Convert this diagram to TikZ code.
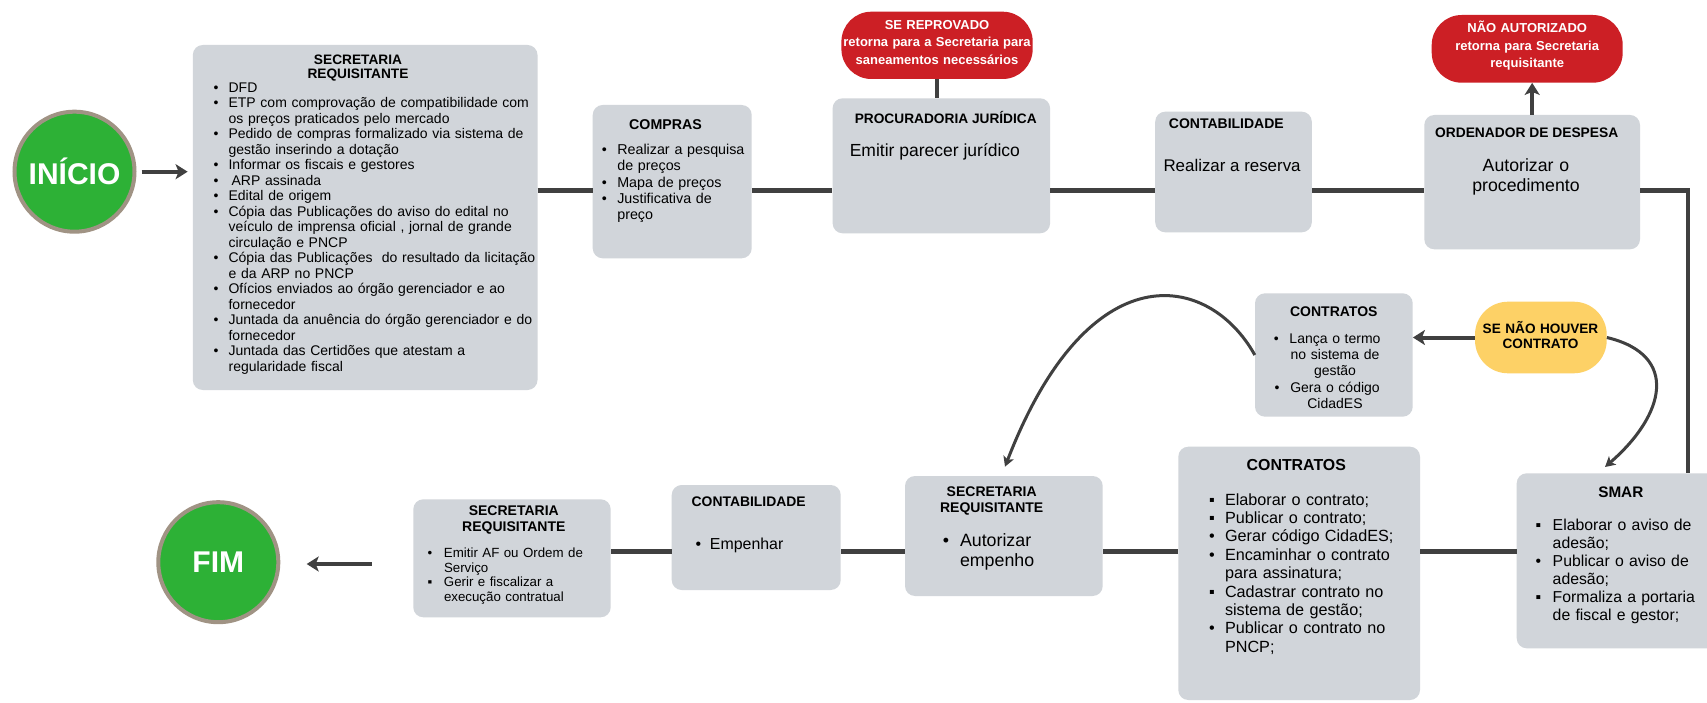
\documentclass[tikz,border=0pt]{standalone}
\usepackage{fontspec}
\setmainfont{Liberation Sans}
\usetikzlibrary{fit,arrows.meta}
\definecolor{boxgray}{RGB}{209,213,218}
\definecolor{redp}{RGB}{204,31,37}
\definecolor{greenc}{RGB}{45,177,54}
\definecolor{taupe}{RGB}{160,147,132}
\definecolor{yelp}{RGB}{253,209,102}
\definecolor{linec}{RGB}{64,64,64}
\newlength{\bi}
\newcommand{\itm}[2][\textbullet]{\hangindent=\bi\hangafter=1 \makebox[\bi][l]{\makebox[10pt][c]{#1}}#2\par}
\newcommand{\sqb}{▪}
\newcommand{\cbul}{\leavevmode\llap{\textbullet\hspace{10.8pt}}}
\begin{document}
\begin{tikzpicture}[x=1pt,y=-1pt,
  gbox/.style={fill=boxgray, rounded corners=10pt, inner sep=0pt, draw=none},
  pill/.style={fill=redp, rounded corners=30pt, inner sep=0pt},
  txt/.style={inner sep=0pt, outer sep=0pt, text=black},
  wtxt/.style={inner sep=0pt, outer sep=0pt, text=white, align=center, text width=220pt, anchor=base, font=\bfseries\fontsize{13}{17.2}\selectfont},
  ttl/.style={txt, font=\bfseries\fontsize{14}{16}\selectfont},
  conn/.style={draw=linec, line width=4.2pt},
  arr/.style={draw=linec, line width=4.2pt, -{Stealth[length=12pt,width=15pt,inset=3pt]}},
  carr/.style={draw=linec, line width=3pt, -{Stealth[length=10pt,width=11pt,inset=2.5pt]}},
  startend/.style={circle, fill=greenc, draw=taupe, line width=4pt, minimum size=120pt, inner sep=0pt, text=white, font=\bfseries\fontsize{30}{30}\selectfont}
]
\useasboundingbox (0,0) rectangle (1707,703);
\clip (0,0) rectangle (1707,703);
\fill[white] (0,0) rectangle (1707,703);

% ---------- boxes ----------
\node[gbox, fit={(192.8,45)(537.5,390)}] (sr1) {};
\node[gbox, fit={(592.7,105)(751.7,258.3)}] (compras) {};
\node[gbox, fit={(832.6,98.3)(1050.1,233.3)}] (proc) {};
\node[pill, fit={(841.4,11.7)(1032.7,79)}] (rep) {};
\node[gbox, fit={(1155.2,111.7)(1311.8,232.3)}] (cont) {};
\node[gbox, fit={(1424.3,115)(1640,249.3)}] (ord) {};
\node[pill, fit={(1431.7,15)(1622.7,82.7)}] (naut) {};
\node[gbox, fit={(1516.7,473.3)(1740,648.3)}] (smar) {};
\node[fill=yelp, rounded corners=33pt, inner sep=0pt, fit={(1475,301.7)(1606.7,373.3)}] (yel) {};
\node[gbox, fit={(1255,293.3)(1412.7,416.7)}] (ctrs) {};
\node[gbox, fit={(1178.3,446.7)(1420,700)}] (ctrb) {};
\node[gbox, fit={(905,476)(1102.7,596)}] (sr3) {};
\node[gbox, fit={(671.7,485)(840.7,590)}] (cont2) {};
\node[gbox, fit={(413.3,499.3)(610.7,617.3)}] (sr4) {};

\node[startend] (ini) at (74.5,171.7) {INÍCIO};
\node[startend] (fim) at (218.3,562.2) {FIM};

% ---------- texts ----------
% SR1
\node[ttl, anchor=base, align=center, text width=220pt, font=\bfseries\fontsize{13.7}{14}\selectfont] (sr1t) at (358,64.3) {SECRETARIA\\REQUISITANTE};
\node[txt, anchor=base west, align=left, text width=340pt, font=\fontsize{14}{15.5}\selectfont] (sr1l) at (211,92.3) {\setlength{\bi}{17.6pt}%
\itm{DFD}
\itm{ETP com comprovação de compatibilidade com\newline os preços praticados pelo mercado}
\itm{Pedido de compras formalizado via sistema de\newline gestão inserindo a dotação}
\itm{Informar os fiscais e gestores}
\itm{\hspace{3pt}ARP assinada}
\itm{Edital de origem}
\itm{Cópia das Publicações do aviso do edital no\newline veículo de imprensa oficial , jornal de grande\newline circulação e PNCP}
\itm{Cópia das Publicações\ \ do resultado da licitação\newline e da ARP no PNCP}
\itm{Ofícios enviados ao órgão gerenciador e ao\newline fornecedor}
\itm{Juntada da anuência do órgão gerenciador e do\newline fornecedor}
\itm{Juntada das Certidões que atestam a\newline regularidade fiscal}};

% COMPRAS
\node[ttl, anchor=base, font=\bfseries\fontsize{14.2}{16}\selectfont] (comprast) at (665.5,130) {COMPRAS};
\node[txt, anchor=base west, align=left, text width=160pt, font=\fontsize{14.3}{16.4}\selectfont] (comprasl) at (599.3,154.3) {\setlength{\bi}{18pt}%
\itm{Realizar a pesquisa\newline de preços}
\itm{Mapa de preços}
\itm{Justificativa de\newline preço}};

% PROCURADORIA
\node[ttl, anchor=base west, font=\bfseries\fontsize{13.7}{16}\selectfont] (proct) at (854.8,124) {PROCURADORIA JURÍDICA};
\node[txt, anchor=base west, font=\fontsize{17.5}{20}\selectfont] (procb) at (849.8,156.3) {Emitir parecer jurídico};
\node[wtxt] (rept) at (937,29.7) {SE REPROVADO\\retorna para a Secretaria para\\saneamentos necessários};

% CONTABILIDADE
\node[ttl, anchor=base west] (contt) at (1168.9,129) {CONTABILIDADE};
\node[txt, anchor=base west, font=\fontsize{16.9}{20}\selectfont] (contb) at (1163.5,171.7) {Realizar a reserva};

% ORDENADOR
\node[ttl, anchor=base, font=\bfseries\fontsize{13.8}{16}\selectfont] (ordt) at (1526.7,137.3) {ORDENADOR DE DESPESA};
\node[txt, anchor=base, align=center, text width=190pt, font=\fontsize{17.7}{20}\selectfont] (ordb) at (1526,172) {Autorizar o\\procedimento};
\node[wtxt, font=\bfseries\fontsize{13}{17.5}\selectfont] (nautt) at (1527.2,33) {NÃO AUTORIZADO\\retorna para Secretaria\\requisitante};

% SMAR
\node[ttl, anchor=base, font=\bfseries\fontsize{15.3}{16}\selectfont] (smart) at (1620.8,497.2) {SMAR};
\node[txt, anchor=base west, align=left, text width=200pt, font=\fontsize{15.8}{18}\selectfont] (smarl) at (1533.3,530.7) {\setlength{\bi}{19.4pt}%
\itm[\sqb]{Elaborar o aviso de\newline adesão;}
\itm{Publicar o aviso de\newline adesão;}
\itm[\sqb]{Formaliza a portaria\newline de fiscal e gestor;}};

% SE NAO HOUVER CONTRATO
\node[txt, anchor=base, align=center, text width=140pt, font=\bfseries\fontsize{13.6}{15.7}\selectfont] (yelt) at (1540.5,333.2) {SE NÃO HOUVER\\CONTRATO};

% CONTRATOS small
\node[ttl, anchor=base] (ctrst) at (1333.8,316.7) {CONTRATOS};
\node[txt, anchor=base, align=center, text width=150pt, font=\fontsize{14}{16.3}\selectfont] (ctrsl) at (1335,343.3) {\cbul Lança o termo\\no sistema de\\gestão\\\cbul Gera o código\\CidadES};

% CONTRATOS big
\node[ttl, anchor=base, font=\bfseries\fontsize{15.9}{16}\selectfont] (ctrbt) at (1296.3,470.7) {CONTRATOS};
\node[txt, anchor=base west, align=left, text width=210pt, font=\fontsize{16.2}{18.4}\selectfont] (ctrbl) at (1207,505) {\setlength{\bi}{18pt}%
\itm[\sqb]{Elaborar o contrato;}
\itm[\sqb]{Publicar o contrato;}
\itm{Gerar código CidadES;}
\itm{Encaminhar o contrato\newline para assinatura;}
\itm[\sqb]{Cadastrar contrato no\newline sistema de gestão;}
\itm{Publicar o contrato no\newline PNCP;}};

% SR3
\node[ttl, anchor=base, align=center, text width=190pt] (sr3t) at (991.7,496.7) {SECRETARIA\\REQUISITANTE};
\node[txt, anchor=base west, align=left, text width=150pt, font=\fontsize{17.8}{20.3}\selectfont] (sr3l) at (941,546.4) {\setlength{\bi}{19pt}%
\itm{Autorizar\newline empenho}};

% CONTABILIDADE 2
\node[ttl, anchor=base west, font=\bfseries\fontsize{13.9}{16}\selectfont] (cont2t) at (691.7,506.7) {CONTABILIDADE};
\node[txt, anchor=base west, align=left, text width=140pt, font=\fontsize{15.9}{18}\selectfont] (cont2l) at (693.3,549) {\setlength{\bi}{16.7pt}%
\itm{Empenhar}};

% SR4
\node[ttl, anchor=base, align=center, text width=190pt] (sr4t) at (513.8,515) {SECRETARIA\\REQUISITANTE};
\node[txt, anchor=base west, align=left, text width=180pt, font=\fontsize{13.3}{14.6}\selectfont] (sr4l) at (425,557.5) {\setlength{\bi}{19pt}%
\itm{Emitir AF ou Ordem de\newline Serviço}
\itm[\sqb]{Gerir e fiscalizar a\newline execução contratual}};

% ---------- connectors ----------
\coordinate (ytop) at (0,190.5);
\coordinate (ybot) at (0,551.5);
\coordinate (corner) at (1688.3,190.5);
\coordinate (fimtail) at (371.7,564);
\coordinate (smarin) at (1605,467);
\coordinate (sr3in) at (1005,466.7);

\draw[arr] ([xshift=5pt]ini.east) -- ([xshift=-5pt]sr1.west |- ini.east);
\draw[conn] (sr1.east |- ytop) -- (compras.west |- ytop);
\draw[conn] (compras.east |- ytop) -- (proc.west |- ytop);
\draw[conn] (proc.east |- ytop) -- (cont.west |- ytop);
\draw[conn] (cont.east |- ytop) -- (ord.west |- ytop);
\draw[conn] (ord.east |- ytop) -- (corner) -- (corner |- smar.north);
\draw[conn, line width=4pt] (rep.south) -- (rep.south |- proc.north);
\draw[arr, line width=4pt] (ord.north) -- (ord.north |- naut.south);
\draw[arr, line width=4pt] (yel.west) -- (ctrs.east |- yel.west);
\draw[carr] (yel.east) .. controls (1680,355) and (1665,415) .. (smarin);
\draw[carr] (ctrs.west) .. controls (1208.5,272.2) and (1088.7,250.4) .. (sr3in);
\draw[conn] (smar.west |- ybot) -- (ctrb.east |- ybot);
\draw[conn] (ctrb.west |- ybot) -- (sr3.east |- ybot);
\draw[conn] (sr3.west |- ybot) -- (cont2.east |- ybot);
\draw[conn] (cont2.west |- ybot) -- (sr4.east |- ybot);
\draw[arr] (fimtail) -- ([xshift=26.4pt]fim.east |- fimtail);
\end{tikzpicture}
\end{document}
